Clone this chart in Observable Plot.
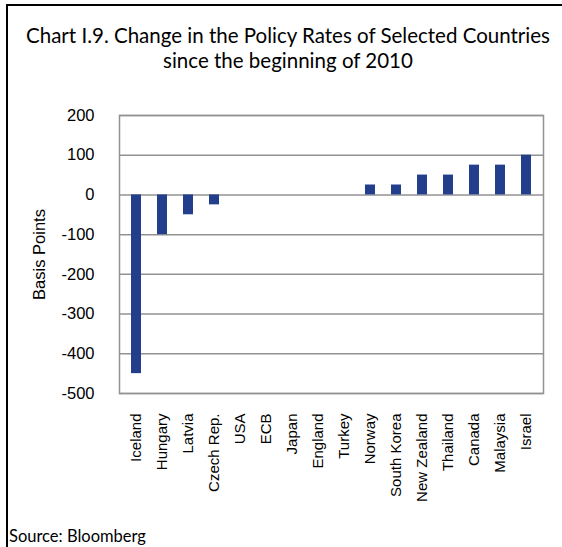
<!DOCTYPE html>
<html>
<head>
<meta charset="utf-8">
<script src="https://cdn.jsdelivr.net/npm/d3@7"></script>
<script src="https://cdn.jsdelivr.net/npm/@observablehq/plot@0.6"></script>
<style>
  html, body { margin: 0; padding: 0; background: #fff; }
  #wrap { position: relative; width: 562px; height: 547px; overflow: hidden; background: #fff; }
  #border { position: absolute; left: 6px; top: 4px; width: 600px; height: 600px; border-top: 2px solid #000; border-left: 2px solid #000; }
  #title { position: absolute; left: 0; top: 23px; width: 576px; text-align: center; font-family: Lato, "Noto Sans", sans-serif; font-size: 20.5px; line-height: 25px; color: #000; }
  #chart { position: absolute; left: 0; top: 0; }
  #source { position: absolute; left: 9px; top: 526px; font-family: Lato, "Noto Sans", sans-serif; font-size: 16.5px; color: #000; }
</style>
</head>
<body>
<div id="wrap">
  <div id="border"></div>
  <div id="title">Chart I.9. Change in the Policy Rates of Selected Countries<br>since the beginning of 2010</div>
  <div id="chart"></div>
  <div id="source">Source: Bloomberg</div>
</div>
<script>
const countries = ["Iceland", "Hungary", "Latvia", "Czech Rep.", "USA", "ECB", "Japan", "England", "Turkey", "Norway", "South Korea", "New Zealand", "Thailand", "Canada", "Malaysia", "Israel"];
const changes = [-450, -100, -50, -25, 0, 0, 0, 0, 0, 25, 25, 50, 50, 75, 75, 100];
const yTicks = [200, 100, 0, -100, -200, -300, -400, -500];

const data = countries.map((c, i) => ({country: c, value: changes[i]}));
const fmt = d => d < 0 ? "-" + Math.abs(d) : String(d);

const chart = Plot.plot({
  width: 562,
  height: 530,
  marginTop: 115,
  marginLeft: 119,
  marginRight: 19,
  marginBottom: 137,
  style: {fontFamily: "'Liberation Sans', Arial, sans-serif", fontSize: "15px", color: "#000", background: "transparent"},
  x: {domain: countries, paddingInner: 0.6, paddingOuter: 0.3},
  y: {domain: [-500, 200]},
  marks: [
    Plot.ruleY(yTicks, {stroke: "#929292", strokeWidth: 1.5}),
    Plot.frame({stroke: "#929292", strokeWidth: 1.5}),
    Plot.barY(data, {x: "country", y: "value", fill: "#233f8b"}),
    Plot.axisX({tickSize: 0, tickPadding: 20, tickRotate: -90, fontSize: 15, label: null}),
    Plot.axisY({ticks: yTicks, tickSize: 0, tickPadding: 25, fontSize: 16.5, tickFormat: fmt, label: "Basis Points", labelAnchor: "center", labelArrow: "none", labelOffset: 86})
  ]
});
document.getElementById("chart").appendChild(chart);
</script>
</body>
</html>
